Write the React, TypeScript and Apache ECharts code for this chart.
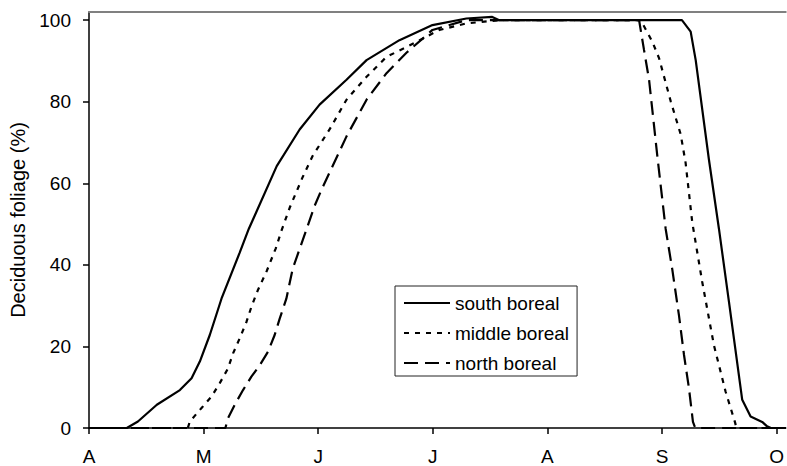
import React, { useEffect, useRef } from "react";
import * as echarts from "echarts";

const monthLabels = ["A", "M", "J", "J", "A", "S", "O"];
const monthTicks = [0, 1, 2, 3, 4, 5, 6];
const yTicks = [0, 20, 40, 60, 80, 100];
const seriesNames = ["south boreal", "middle boreal", "north boreal"];

const southX = [0, 0.33, 0.427, 0.592, 0.793, 0.895, 0.967, 1.054, 1.156, 1.315, 1.394, 1.638, 1.838, 2.012, 2.247, 2.422, 2.709, 2.997, 3.293, 3.519, 3.58, 5.174, 5.25, 5.294, 5.409, 5.497, 5.584, 5.7, 5.773, 5.874, 5.917, 5.95, 6.08];
const southY = [0, 0, 1.6, 5.7, 9.3, 12.2, 16.3, 22.8, 31.7, 43, 48.8, 64.2, 73.2, 79.3, 85.4, 90.2, 95.1, 98.8, 100.4, 100.8, 100, 100, 97.2, 90.2, 65.9, 48.8, 31, 6.9, 2.8, 1.5, 0.4, 0, 0];

const middleX = [0, 0.862, 0.88, 0.982, 1.069, 1.141, 1.213, 1.257, 1.315, 1.374, 1.417, 1.472, 1.551, 1.629, 1.681, 1.751, 1.864, 1.951, 2.099, 2.247, 2.422, 2.596, 2.77, 3.057, 3.293, 3.58, 4.814, 4.916, 4.974, 5.076, 5.163, 5.206, 5.264, 5.351, 5.453, 5.555, 5.636, 5.65, 6.08];
const middleY = [0, 0, 1.6, 4.9, 7.7, 11, 14.6, 18.3, 22, 26, 29.7, 33.7, 38.5, 44, 48.5, 54, 61.5, 66.7, 73.2, 80.5, 86.1, 91, 93.4, 97.6, 99.2, 100, 100, 94.7, 90.7, 80.1, 72, 65, 50.4, 35.8, 20.3, 8.9, 1.5, 0, 0];

const northX = [0, 1.19, 1.213, 1.272, 1.344, 1.417, 1.49, 1.562, 1.62, 1.664, 1.722, 1.777, 1.899, 1.969, 2.03, 2.125, 2.247, 2.422, 2.596, 2.77, 2.997, 3.293, 4.8, 4.843, 4.887, 4.959, 5.032, 5.089, 5.148, 5.192, 5.235, 5.27, 5.29, 6.08];
const northY = [0, 0, 2.4, 5.7, 9.3, 12.6, 15.4, 18.7, 22.8, 26.8, 31.7, 39, 48.8, 54.5, 58.5, 64.2, 71.5, 80.5, 87, 92, 97.6, 100, 100, 92.7, 85.4, 66.7, 48.8, 39, 27.6, 17.9, 9.8, 1.5, 0, 0];

const zip = (xs: number[], ys: number[]) => xs.map((x, i) => [x, ys[i]]);

const FONT = "Liberation Sans, Arial, sans-serif";

export default function App() {
  const ref = useRef<HTMLDivElement>(null);
  useEffect(() => {
    if (!ref.current) return;
    const chart = echarts.init(ref.current, null, { renderer: "svg" });
    const lineTypes: any[] = ["solid", [5, 6], [14, 7]];
    const datas = [zip(southX, southY), zip(middleX, middleY), zip(northX, northY)];
    chart.setOption({
      animation: false,
      backgroundColor: "#fff",
      textStyle: { fontFamily: FONT },
      grid: { left: 89, right: 0, top: 12, bottom: 36 },
      legend: {
        orient: "vertical",
        left: 395,
        top: 286,
        itemWidth: 46,
        itemHeight: 14,
        itemGap: 10,
        padding: [7, 8, 3, 8],
        borderColor: "#222",
        borderWidth: 1,
        itemStyle: { opacity: 0 },
        textStyle: { fontSize: 19, color: "#000", fontFamily: FONT, lineHeight: 20 },
        data: seriesNames,
      },
      xAxis: [
        {
          type: "value",
          min: 0,
          max: 6.08,
          position: "bottom",
          splitLine: { show: false },
          axisLine: { lineStyle: { color: "#000", width: 1.5 } },
          axisTick: { customValues: monthTicks, length: 6, lineStyle: { color: "#000", width: 1.5 } },
          axisLabel: {
            customValues: monthTicks,
            margin: 19,
            fontSize: 19,
            color: "#000",
            fontFamily: FONT,
            formatter: (v: number) => monthLabels[Math.round(v)] ?? "",
          },
        },
        {
          type: "value",
          min: 0,
          max: 6.08,
          position: "top",
          splitLine: { show: false },
          axisLine: { show: true, lineStyle: { color: "#808080", width: 2 } },
          axisTick: { show: false },
          axisLabel: { show: false },
        },
      ],
      yAxis: {
        type: "value",
        min: 0,
        max: 102,
        name: "Deciduous foliage (%)",
        nameLocation: "middle",
        nameGap: 60,
        nameTextStyle: { fontSize: 20, color: "#000", fontFamily: FONT },
        splitLine: { show: false },
        axisLine: { show: true, lineStyle: { color: "#000", width: 1.5 } },
        axisTick: { show: true, customValues: yTicks, length: 6, lineStyle: { color: "#000", width: 1.5 } },
        axisLabel: { customValues: yTicks, margin: 18, fontSize: 19, color: "#000", fontFamily: FONT },
      },
      series: seriesNames.map((name, i) => ({
        name,
        type: "line",
        xAxisIndex: 0,
        data: datas[i],
        symbol: "none",
        showSymbol: false,
        smooth: false,
        lineStyle: { color: "#000", width: 2.2, type: lineTypes[i] },
        itemStyle: { color: "#000" },
      })),
    });
    return () => chart.dispose();
  }, []);
  return <div ref={ref} style={{ position: "fixed", left: 0, top: 0, width: 787, height: 466 }} />;
}
